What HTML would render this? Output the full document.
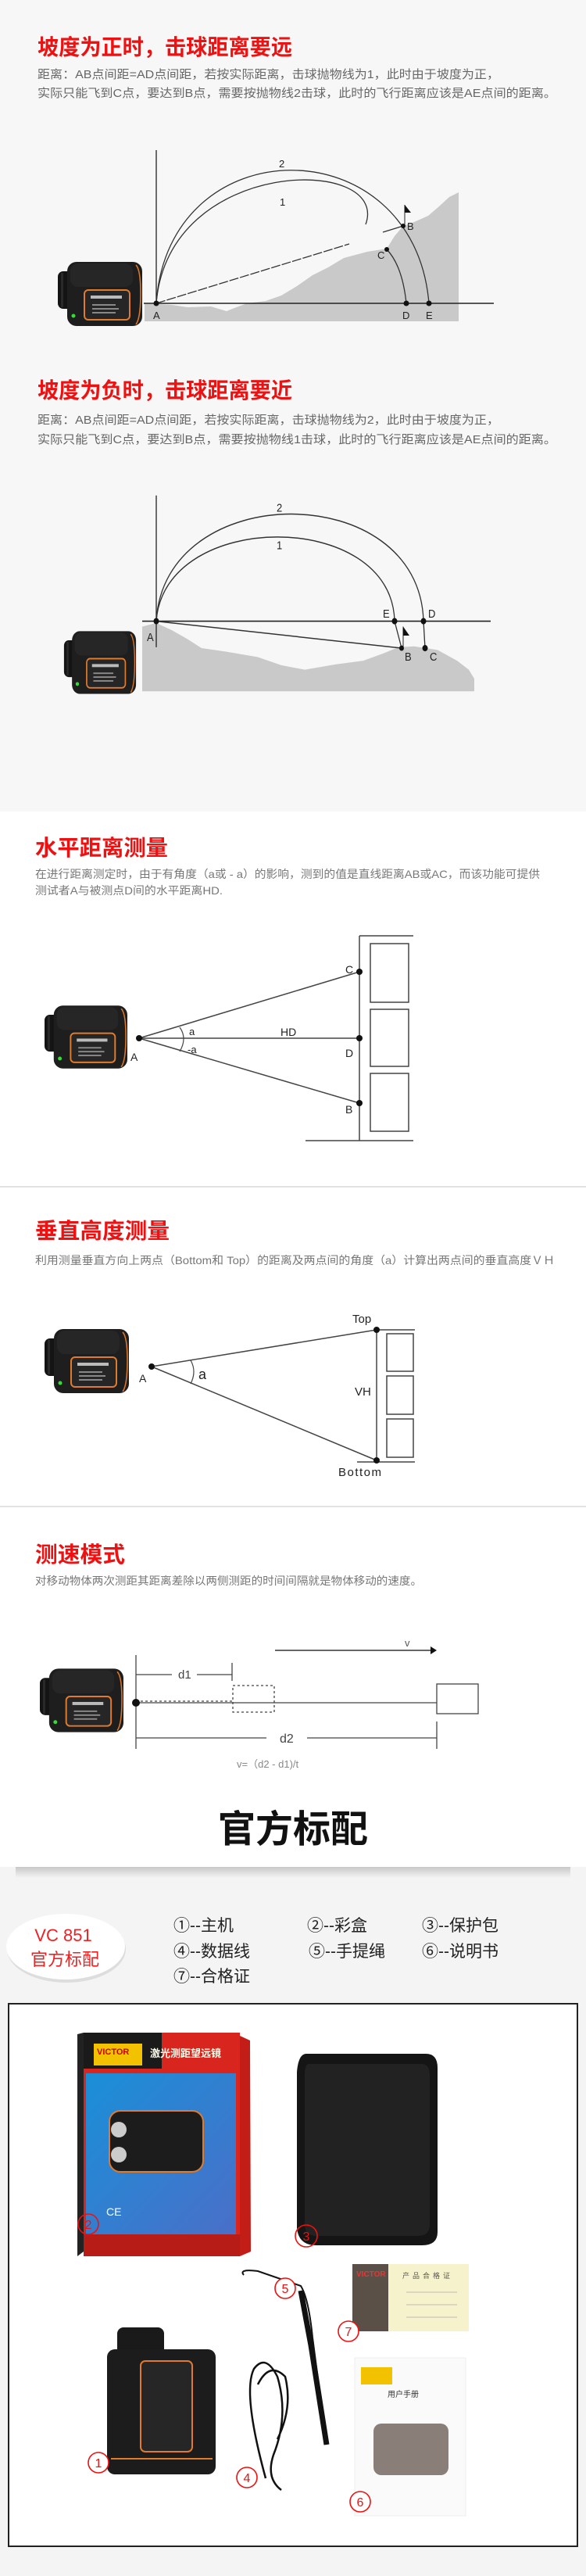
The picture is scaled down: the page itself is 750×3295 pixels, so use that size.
<!DOCTYPE html>
<html><head><meta charset="utf-8"><style>
html,body{margin:0;padding:0;background:#fff}
svg{display:block}
text{font-family:"Liberation Sans","Noto Sans CJK SC",sans-serif}
</style></head><body>
<svg width="750" height="3295" viewBox="0 0 750 3295" xmlns="http://www.w3.org/2000/svg">
<defs>
<symbol id="dev" viewBox="0 0 108 82">
<rect x="0" y="12" width="24" height="48" rx="7" fill="#141414"/>
<rect x="4" y="14" width="3" height="44" fill="#2a2a2a"/>
<rect x="12" y="0" width="96" height="82" rx="12" fill="#1e1e1e"/>
<rect x="16" y="2" width="80" height="30" rx="10" fill="#262626"/>
<path d="M100 4 Q106 10 106 40 Q106 72 100 80" stroke="#d9772b" stroke-width="1.6" fill="none"/>
<rect x="34" y="36" width="58" height="38" rx="5" fill="#262626" stroke="#e07b2c" stroke-width="2"/>
<rect x="42" y="43" width="40" height="4" fill="#bbb"/>
<rect x="44" y="54" width="30" height="2" fill="#888"/>
<rect x="44" y="59" width="34" height="2" fill="#888"/>
<rect x="44" y="64" width="30" height="2" fill="#888"/>
<circle cx="20" cy="69" r="2.5" fill="#3d3"/>
</symbol>
<linearGradient id="sh" x1="0" y1="0" x2="0" y2="1"><stop offset="0" stop-color="#c8c8c8"/><stop offset="1" stop-color="#f4f4f4"/></linearGradient>
<linearGradient id="blue" x1="0" y1="0" x2="1" y2="1"><stop offset="0" stop-color="#1a8fd8"/><stop offset="1" stop-color="#4a6fc8"/></linearGradient>
</defs>

<rect x="0" y="0" width="750" height="1038" fill="#f7f7f7"/>
<rect x="0" y="1517" width="750" height="2" fill="#e2e2e2"/>
<rect x="0" y="1926" width="750" height="2" fill="#e2e2e2"/>
<rect x="0" y="2388" width="750" height="907" fill="#f4f4f4"/>
<rect x="20" y="2388" width="710" height="14" fill="url(#sh)"/>

<!-- Section 1 -->
<text x="48" y="70" font-size="28" font-weight="bold" fill="#ee1111" textLength="326" lengthAdjust="spacingAndGlyphs">坡度为正时，击球距离要远</text>
<text x="48" y="100" font-size="15" fill="#666" textLength="591" lengthAdjust="spacingAndGlyphs">距离：AB点间距=AD点间距，若按实际距离，击球抛物线为1，此时由于坡度为正，</text>
<text x="48" y="124" font-size="15" fill="#666" textLength="664" lengthAdjust="spacingAndGlyphs">实际只能飞到C点，要达到B点，需要按抛物线2击球，此时的飞行距离应该是AE点间的距离。</text>
<path d="M185 388 L185 411 L587 411 L587 246 L575 252 L562 264 L548 276 L530 284 L516 289 L505 302 L495 318 L470 322 L440 330 L420 342 L400 352 L380 366 L360 378 L340 385 L316 388 L300 394 L290 398 L270 392 L240 393 L220 390 Z" fill="#c9c9c9"/>
<line x1="200" y1="192" x2="200" y2="390" stroke="#222" stroke-width="1.3"/>
<line x1="184" y1="388" x2="632" y2="388" stroke="#222" stroke-width="1.5"/>
<path d="M200 388 C215 161 530 161 549 388" stroke="#333" stroke-width="1.3" fill="none"/>
<path d="M200 388 C215 199 500 199 468 287" stroke="#333" stroke-width="1.3" fill="none"/>
<path d="M495 319 Q515 340 520 388" stroke="#333" stroke-width="1.3" fill="none"/>
<line x1="200" y1="388" x2="447" y2="312" stroke="#333" stroke-width="1.3" stroke-dasharray="12 2"/>
<line x1="490" y1="297" x2="516" y2="289" stroke="#333" stroke-width="1.3"/>
<line x1="518" y1="289" x2="518" y2="262" stroke="#222" stroke-width="1"/>
<path d="M518 262 L526 272 L518 272 Z" fill="#111"/>
<circle cx="200" cy="388" r="3.5" fill="#111"/><circle cx="516" cy="289" r="3" fill="#111"/><circle cx="495" cy="319" r="3" fill="#111"/><circle cx="520" cy="388" r="3.5" fill="#111"/><circle cx="549" cy="388" r="3.5" fill="#111"/>
<text x="357" y="214" font-size="13" fill="#222">2</text><text x="358" y="263" font-size="13" fill="#222">1</text>
<text x="196" y="408" font-size="13" fill="#222">A</text><text x="521" y="294" font-size="13" fill="#222">B</text><text x="483" y="331" font-size="13" fill="#222">C</text><text x="515" y="408" font-size="13" fill="#222">D</text><text x="545" y="408" font-size="13" fill="#222">E</text>
<use href="#dev" x="74" y="335" width="108" height="82"/>

<!-- Section 2 -->
<text x="48" y="509" font-size="28" font-weight="bold" fill="#ee1111" textLength="326" lengthAdjust="spacingAndGlyphs">坡度为负时，击球距离要近</text>
<text x="48" y="542" font-size="15" fill="#666" textLength="591" lengthAdjust="spacingAndGlyphs">距离：AB点间距=AD点间距，若按实际距离，击球抛物线为2，此时由于坡度为正，</text>
<text x="48" y="567" font-size="15" fill="#666" textLength="664" lengthAdjust="spacingAndGlyphs">实际只能飞到C点，要达到B点，需要按抛物线1击球，此时的飞行距离应该是AE点间的距离。</text>
<g transform="translate(0,420) scale(1,1.149) translate(0,-420)">
<path d="M182 824 L182 752 L200 748 L220 756 L240 766 L258 776 L290 780 L330 786 L360 795 L390 800 L430 794 L465 790 L490 782 L510 775 L530 774 L560 778 L585 790 L600 800 L607 810 L607 824 Z" fill="#c9c9c9"/>
<line x1="200" y1="606" x2="200" y2="775" stroke="#222" stroke-width="1.3"/>
<line x1="182" y1="746" x2="628" y2="746" stroke="#222" stroke-width="1.5"/>
<path d="M200 746 C210 587 537 587 542 746 L544 776" stroke="#333" stroke-width="1.3" fill="none"/>
<path d="M200 746 C210 621 502 621 505 746 L514 776" stroke="#333" stroke-width="1.3" fill="none"/>
<line x1="200" y1="746" x2="514" y2="776" stroke="#333" stroke-width="1.3"/>
<line x1="516" y1="776" x2="516" y2="752" stroke="#222" stroke-width="1"/>
<path d="M516 752 L524 762 L516 762 Z" fill="#111"/>
<circle cx="200" cy="746" r="3.5" fill="#111"/><circle cx="505" cy="746" r="3.5" fill="#111"/><circle cx="542" cy="746" r="3.5" fill="#111"/><circle cx="514" cy="776" r="3" fill="#111"/><circle cx="544" cy="776" r="3.5" fill="#111"/>
<text x="354" y="624" font-size="13" fill="#222">2</text><text x="354" y="666" font-size="13" fill="#222">1</text>
<text x="188" y="768" font-size="13" fill="#222">A</text><text x="490" y="742" font-size="13" fill="#222">E</text><text x="548" y="742" font-size="13" fill="#222">D</text><text x="518" y="790" font-size="13" fill="#222">B</text><text x="550" y="790" font-size="13" fill="#222">C</text>
<use href="#dev" x="74" y="757" width="108" height="70"/>
</g>

<!-- Section 3 -->
<text x="45" y="1094" font-size="28" font-weight="bold" fill="#ee1111" textLength="170" lengthAdjust="spacingAndGlyphs">水平距离测量</text>
<text x="45" y="1123" font-size="14" fill="#777" textLength="646" lengthAdjust="spacingAndGlyphs">在进行距离测定时，由于有角度（a或 - a）的影响，测到的值是直线距离AB或AC，而该功能可提供</text>
<text x="45" y="1144" font-size="14" fill="#777" textLength="240" lengthAdjust="spacingAndGlyphs">测试者A与被测点D间的水平距离HD.</text>
<line x1="460" y1="1197" x2="529" y2="1197" stroke="#444" stroke-width="1.5"/>
<line x1="391" y1="1459" x2="529" y2="1459" stroke="#444" stroke-width="1.5"/>
<line x1="460" y1="1197" x2="460" y2="1459" stroke="#444" stroke-width="1.5"/>
<rect x="474" y="1207" width="49" height="75" fill="none" stroke="#444" stroke-width="1.5"/>
<rect x="474" y="1291" width="49" height="73" fill="none" stroke="#444" stroke-width="1.5"/>
<rect x="474" y="1373" width="49" height="74" fill="none" stroke="#444" stroke-width="1.5"/>
<line x1="178" y1="1328" x2="460" y2="1243" stroke="#444" stroke-width="1.5"/>
<line x1="178" y1="1328" x2="460" y2="1328" stroke="#444" stroke-width="1.5"/>
<line x1="178" y1="1328" x2="460" y2="1411" stroke="#444" stroke-width="1.5"/>
<path d="M230 1314 Q240 1328 230 1345" stroke="#444" stroke-width="1.2" fill="none"/>
<circle cx="178" cy="1328" r="4" fill="#111"/><circle cx="460" cy="1243" r="4" fill="#111"/><circle cx="460" cy="1328" r="4" fill="#111"/><circle cx="460" cy="1411" r="4" fill="#111"/>
<text x="242" y="1324" font-size="13" fill="#222">a</text><text x="240" y="1347" font-size="13" fill="#222">-a</text>
<text x="359" y="1325" font-size="14" fill="#222">HD</text>
<text x="167" y="1357" font-size="14" fill="#222">A</text><text x="442" y="1245" font-size="14" fill="#222">C</text><text x="442" y="1352" font-size="14" fill="#222">D</text><text x="442" y="1424" font-size="14" fill="#222">B</text>
<use href="#dev" x="57" y="1286" width="106" height="81"/>

<!-- Section 4 -->
<text x="45" y="1584" font-size="28" font-weight="bold" fill="#ee1111" textLength="172" lengthAdjust="spacingAndGlyphs">垂直高度测量</text>
<text x="45" y="1617" font-size="14" fill="#777" textLength="665" lengthAdjust="spacingAndGlyphs">利用测量垂直方向上两点（Bottom和 Top）的距离及两点间的角度（a）计算出两点间的垂直高度ＶＨ</text>
<line x1="482" y1="1701" x2="531" y2="1701" stroke="#444" stroke-width="1.5"/>
<line x1="457" y1="1870" x2="531" y2="1870" stroke="#444" stroke-width="1.5"/>
<line x1="482" y1="1701" x2="482" y2="1870" stroke="#444" stroke-width="1.5"/>
<rect x="495" y="1706" width="34" height="48" fill="none" stroke="#444" stroke-width="1.5"/>
<rect x="495" y="1760" width="34" height="49" fill="none" stroke="#444" stroke-width="1.5"/>
<rect x="495" y="1815" width="34" height="49" fill="none" stroke="#444" stroke-width="1.5"/>
<line x1="194" y1="1748" x2="482" y2="1701" stroke="#444" stroke-width="1.5"/>
<line x1="194" y1="1748" x2="482" y2="1868" stroke="#444" stroke-width="1.5"/>
<path d="M244 1740 Q252 1754 244 1770" stroke="#444" stroke-width="1.2" fill="none"/>
<circle cx="194" cy="1748" r="4" fill="#111"/><circle cx="482" cy="1701" r="4" fill="#111"/><circle cx="482" cy="1868" r="4" fill="#111"/>
<text x="254" y="1764" font-size="18" fill="#222">a</text><text x="178" y="1768" font-size="14" fill="#222">A</text>
<text x="451" y="1692" font-size="15" fill="#222">Top</text><text x="454" y="1785" font-size="15" fill="#222">VH</text><text x="433" y="1888" font-size="15" fill="#222" letter-spacing="1.5">Bottom</text>
<use href="#dev" x="57" y="1700" width="108" height="82"/>

<!-- Section 5 -->
<text x="45" y="1998" font-size="28" font-weight="bold" fill="#ee1111" textLength="115" lengthAdjust="spacingAndGlyphs">测速模式</text>
<text x="45" y="2027" font-size="14" fill="#777" textLength="495" lengthAdjust="spacingAndGlyphs">对移动物体两次测距其距离差除以两侧测距的时间间隔就是物体移动的速度。</text>
<line x1="352" y1="2111" x2="553" y2="2111" stroke="#333" stroke-width="1.5"/>
<path d="M559 2111 L551 2106 L551 2116 Z" fill="#111"/>
<text x="518" y="2106" font-size="13" fill="#555">v</text>
<line x1="174" y1="2117" x2="174" y2="2237" stroke="#444" stroke-width="1.3"/>
<line x1="174" y1="2142" x2="220" y2="2142" stroke="#444" stroke-width="1.3"/>
<line x1="252" y1="2142" x2="297" y2="2142" stroke="#444" stroke-width="1.3"/>
<line x1="297" y1="2127" x2="297" y2="2150" stroke="#444" stroke-width="1.3"/>
<text x="228" y="2147" font-size="15" fill="#444">d1</text>
<line x1="174" y1="2176" x2="298" y2="2176" stroke="#444" stroke-width="1.3" stroke-dasharray="3 3"/>
<line x1="174" y1="2178" x2="559" y2="2178" stroke="#444" stroke-width="1.3"/>
<rect x="298" y="2156" width="53" height="34" fill="none" stroke="#444" stroke-width="1.3" stroke-dasharray="3 3"/>
<rect x="559" y="2154" width="53" height="38" fill="#fff" stroke="#444" stroke-width="1.3"/>
<circle cx="174" cy="2178" r="5" fill="#111"/>
<line x1="174" y1="2223" x2="341" y2="2223" stroke="#444" stroke-width="1.3"/>
<line x1="393" y1="2223" x2="559" y2="2223" stroke="#444" stroke-width="1.3"/>
<line x1="559" y1="2202" x2="559" y2="2237" stroke="#444" stroke-width="1.3"/>
<text x="358" y="2229" font-size="16" fill="#444">d2</text>
<text x="303" y="2261" font-size="13" fill="#888">v=（d2 - d1)/t</text>
<use href="#dev" x="51" y="2133" width="107" height="84"/>

<!-- 官方标配 -->
<text x="375" y="2356" font-size="48" font-weight="bold" fill="#111" text-anchor="middle">官方标配</text>
<ellipse cx="85" cy="2493" rx="76" ry="43" fill="#ddd"/>
<ellipse cx="84" cy="2490" rx="76" ry="42" fill="#fff"/>
<text x="81" y="2483" font-size="22" fill="#e22" text-anchor="middle">VC 851</text>
<text x="83" y="2514" font-size="22" fill="#e22" text-anchor="middle">官方标配</text>
<g font-size="21" fill="#222">
<text x="222" y="2470">①--主机</text><text x="393" y="2470">②--彩盒</text><text x="540" y="2470">③--保护包</text>
<text x="222" y="2503">④--数据线</text><text x="395" y="2503">⑤--手提绳</text><text x="540" y="2503">⑥--说明书</text>
<text x="222" y="2535">⑦--合格证</text>
</g>

<rect x="11" y="2563" width="728" height="694" fill="#fff" stroke="#222" stroke-width="2"/>
<path d="M99 2602 L107 2600 L107 2880 L99 2886 Z" fill="#222"/>
<rect x="107" y="2600" width="200" height="280" fill="#d8251d"/>
<rect x="107" y="2600" width="100" height="46" fill="#1a1a1a"/>
<rect x="120" y="2614" width="62" height="28" fill="#f2c200"/>
<text x="124" y="2628" font-size="11" font-weight="bold" fill="#c00">VICTOR</text>
<text x="192" y="2631" font-size="13" font-weight="bold" fill="#ffe">激光测距望远镜</text>
<rect x="110" y="2652" width="192" height="206" fill="url(#blue)"/>
<rect x="140" y="2700" width="120" height="78" rx="14" fill="#1c1c1c" stroke="#e07b2c" stroke-width="2"/>
<circle cx="152" cy="2724" r="10" fill="#ccc"/><circle cx="152" cy="2756" r="10" fill="#ccc"/>
<text x="136" y="2834" font-size="14" fill="#fff">CE</text>
<path d="M307 2604 L320 2610 L321 2880 L307 2886 Z" fill="#c21d17"/>
<rect x="107" y="2858" width="200" height="28" fill="#b81c16"/>
<circle cx="113" cy="2845" r="13" fill="none" stroke="#e11" stroke-width="1.6"/><text x="113" y="2851" font-size="16" fill="#e11" text-anchor="middle">2</text>
<path d="M392 2627 L545 2627 Q560 2627 560 2645 L560 2855 Q560 2872 540 2872 L405 2872 Q382 2872 380 2850 L380 2650 Q382 2627 392 2627 Z" fill="#151515"/>
<path d="M395 2640 L540 2640 Q550 2640 550 2655 L550 2845 Q550 2860 535 2860 L405 2860 Q390 2860 390 2845 L390 2655 Q390 2640 395 2640 Z" fill="#222"/>
<circle cx="392" cy="2860" r="14" fill="none" stroke="#e11" stroke-width="1.6"/><text x="392" y="2866" font-size="16" fill="#e11" text-anchor="middle">3</text>
<path d="M312 2910 Q305 2902 330 2905 L385 2924 Q395 2940 400 2990 L418 3127" stroke="#111" stroke-width="2" fill="none"/>
<path d="M385 2930 L398 3000 L418 3127" stroke="#111" stroke-width="7" fill="none"/>
<circle cx="365" cy="2927" r="13" fill="#fff" stroke="#e11" stroke-width="1.6"/><text x="365" y="2933" font-size="16" fill="#e11" text-anchor="middle">5</text>
<rect x="451" y="2896" width="149" height="86" fill="#f5f2cc"/>
<rect x="451" y="2896" width="46" height="86" fill="#5a5048"/>
<text x="456" y="2912" font-size="10" font-weight="bold" fill="#e33">VICTOR</text>
<text x="515" y="2914" font-size="9" fill="#555" letter-spacing="4">产品合格证</text>
<line x1="520" y1="2932" x2="585" y2="2932" stroke="#aaa" stroke-width="0.8"/><line x1="520" y1="2948" x2="585" y2="2948" stroke="#aaa" stroke-width="0.8"/><line x1="520" y1="2964" x2="585" y2="2964" stroke="#aaa" stroke-width="0.8"/>
<circle cx="446" cy="2982" r="13" fill="#fff" stroke="#e11" stroke-width="1.6"/><text x="446" y="2988" font-size="16" fill="#e11" text-anchor="middle">7</text>
<rect x="150" y="2977" width="60" height="40" rx="8" fill="#1a1a1a"/>
<rect x="137" y="3005" width="139" height="160" rx="10" fill="#1c1c1c"/>
<rect x="180" y="3020" width="66" height="116" rx="6" fill="#262626" stroke="#e07b2c" stroke-width="2"/>
<line x1="142" y1="3145" x2="272" y2="3145" stroke="#e07b2c" stroke-width="2"/>
<circle cx="126" cy="3150" r="13" fill="#fff" stroke="#e11" stroke-width="1.6"/><text x="126" y="3156" font-size="16" fill="#e11" text-anchor="middle">1</text>
<path d="M340 3170 Q310 3060 325 3030 Q340 3010 355 3040 Q370 3090 350 3140 Q340 3170 360 3185 M330 3050 Q345 3020 365 3040 Q375 3080 355 3120" stroke="#111" stroke-width="2.5" fill="none"/>
<circle cx="316" cy="3169" r="13" fill="#fff" stroke="#e11" stroke-width="1.6"/><text x="316" y="3175" font-size="16" fill="#e11" text-anchor="middle">4</text>
<rect x="454" y="3016" width="142" height="202" fill="#fafafa" stroke="#eee"/>
<rect x="462" y="3028" width="40" height="22" fill="#f2c200"/>
<text x="496" y="3066" font-size="10" fill="#333">用户手册</text>
<rect x="478" y="3100" width="96" height="66" rx="10" fill="#8a7f78"/>
<circle cx="461" cy="3200" r="13" fill="#fff" stroke="#e11" stroke-width="1.6"/><text x="461" y="3206" font-size="16" fill="#e11" text-anchor="middle">6</text>
</svg>
</body></html>
